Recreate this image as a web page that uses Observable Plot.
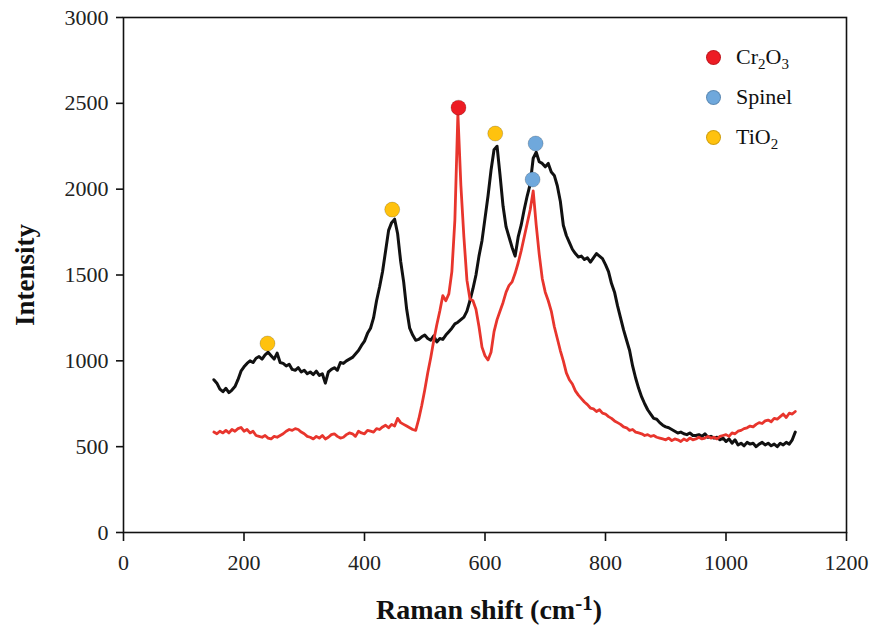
<!DOCTYPE html>
<html><head><meta charset="utf-8">
<script src="https://cdn.jsdelivr.net/npm/d3@7"></script>
<script src="https://cdn.jsdelivr.net/npm/@observablehq/plot@0.6"></script>
<style>
body{margin:0;background:#fff;}
#wrap{position:relative;width:869px;height:631px;font-family:"Liberation Serif","Times New Roman",serif;color:#111;}
.ylab{position:absolute;left:25px;top:275px;transform:translate(-50%,-50%) rotate(-90deg);font-weight:bold;font-size:27px;white-space:nowrap;}
.xlab{position:absolute;left:489px;top:610px;transform:translate(-50%,-50%);font-weight:bold;font-size:28px;white-space:nowrap;}
.xlab sup{font-size:21px;vertical-align:9px;line-height:0;}
.legend{position:absolute;left:706px;top:37px;font-size:22px;}
.legend .item{display:flex;align-items:center;height:40px;}
.legend .dot{width:15px;height:15px;border-radius:50%;margin-right:15px;box-sizing:border-box;border:1px solid rgba(0,0,0,0.18);}
.legend sub{font-size:15px;vertical-align:-5px;line-height:0;}
</style>
</head><body>
<div id="wrap"></div>
<script>
// Raman shift sample positions (cm-1)
const shift = [
150,155,160,165,170,175,180,185,190,195,
200,205,210,215,220,225,230,235,240,245,
250,255,260,265,270,275,280,285,290,295,
300,305,310,315,320,325,330,335,340,345,
350,355,360,365,370,375,380,385,390,395,
400,405,410,415,420,425,430,435,440,445,
450,455,460,465,470,475,480,485,490,495,
500,505,510,515,520,525,530,535,540,545,
550,555,560,565,570,575,580,585,590,595,
600,605,610,615,620,625,630,635,640,645,
650,655,660,665,670,675,680,685,690,695,
700,705,710,715,720,725,730,735,740,745,
750,755,760,765,770,775,780,785,790,795,
800,805,810,815,820,825,830,835,840,845,
850,855,860,865,870,875,880,885,890,895,
900,905,910,915,920,925,930,935,940,945,
950,955,960,965,970,975,980,985,990,995,
1000,1005,1010,1015,1020,1025,1030,1035,1040,1045,
1050,1055,1060,1065,1070,1075,1080,1085,1090,1095,
1100,1105,1110,1115];

// Black spectrum intensity
const intensityBlack = [
890,870,835,820,840,815,830,850,890,940,
965,985,1000,990,1015,1025,1010,1035,1050,1030,
1010,1045,990,985,970,980,950,945,960,935,
945,925,935,920,940,915,925,870,935,950,
960,945,990,985,1000,1010,1020,1040,1060,1090,
1115,1160,1190,1250,1350,1430,1520,1640,1760,1805,
1825,1740,1580,1460,1300,1190,1150,1120,1125,1140,
1150,1130,1120,1145,1110,1130,1125,1150,1170,1190,
1215,1225,1240,1255,1290,1350,1420,1500,1610,1700,
1830,1960,2110,2230,2250,2080,1900,1780,1720,1660,
1610,1720,1790,1880,1960,2030,2180,2215,2160,2150,
2130,2150,2100,2080,2020,1930,1790,1730,1690,1650,
1625,1605,1610,1590,1600,1575,1600,1625,1610,1595,
1560,1520,1450,1400,1320,1250,1180,1120,1060,970,
900,840,790,750,715,690,665,660,640,625,
615,610,600,590,580,585,575,570,580,565,
565,570,560,575,555,560,550,555,540,550,
530,545,520,540,510,520,505,525,515,520,
500,515,525,510,520,505,515,500,520,510,
525,515,540,585];

// Red spectrum intensity
const intensityRed = [
585,575,590,580,595,580,600,590,605,612,
590,600,580,590,565,560,555,565,550,545,
560,555,565,575,590,600,595,605,600,585,
575,560,555,545,560,550,565,545,555,570,
575,560,550,555,570,580,575,560,590,580,
575,595,590,585,605,600,615,625,610,630,
620,665,640,630,620,610,600,595,660,740,
830,930,1020,1120,1210,1290,1380,1350,1390,1520,
1820,2440,2020,1720,1470,1360,1350,1300,1200,1080,
1030,1005,1050,1170,1240,1290,1340,1400,1440,1460,
1510,1570,1640,1720,1800,1880,1990,1790,1620,1480,
1400,1350,1290,1200,1130,1060,1000,930,890,865,
825,800,780,760,745,725,720,705,715,695,
690,675,665,650,640,630,615,610,595,600,
585,580,575,565,570,560,565,555,550,545,
540,550,535,545,540,530,545,535,550,540,
545,555,545,550,560,550,555,545,560,565,
570,560,580,575,590,595,605,610,620,615,
630,640,635,650,655,645,665,660,675,690,
670,695,690,705];

// Peak markers
const markerPhase = ["Cr2O3","TiO2","TiO2","TiO2","Spinel","Spinel"];
const markerShift = [556,239,446,617,679,684];
const markerIntensity = [2475,1101,1881,2324,2056,2266];

const phaseNames = ["Cr2O3","Spinel","TiO2"];
const phaseColors = ["#ED1C24","#6FA8DC","#FFC20E"];

const xTicks = [0,200,400,600,800,1000,1200];
const yTicks = [0,500,1000,1500,2000,2500,3000];

const black = shift.map((s,i)=>({shift:s, intensity:intensityBlack[i]}));
const red = shift.map((s,i)=>({shift:s, intensity:intensityRed[i]}));
const markers = markerPhase.map((p,i)=>({phase:p, shift:markerShift[i], intensity:markerIntensity[i]}));

const chart = Plot.plot({
  width: 869, height: 631,
  marginLeft: 123, marginRight: 23, marginTop: 17, marginBottom: 99,
  style: {fontFamily: "'Liberation Serif','Times New Roman',serif", fontSize: "22px", color: "#222", background: "white", overflow: "visible"},
  x: {domain: [0,1200], label: null},
  y: {domain: [0,3000], label: null},
  color: {domain: phaseNames, range: phaseColors},
  marks: [
    Plot.axisX({ticks: xTicks, tickSize: 9, tickPadding: 13, tickFormat: d => String(d), label: null, strokeWidth: 1.6, stroke: "#111"}),
    Plot.axisY({ticks: yTicks, tickSize: 7, tickPadding: 8, tickFormat: d => String(d), label: null, strokeWidth: 1.6, stroke: "#111"}),
    Plot.frame({stroke: "#111", strokeWidth: 1.6}),
    Plot.line(black, {x: "shift", y: "intensity", stroke: "#111", strokeWidth: 3, strokeLinejoin: "round"}),
    Plot.line(red, {x: "shift", y: "intensity", stroke: "#E8352D", strokeWidth: 2.8, strokeLinejoin: "round"}),
    Plot.dot(markers, {x: "shift", y: "intensity", fill: "phase", r: 7.5, stroke: "rgba(0,0,0,0.18)", strokeWidth: 1})
  ]
});

const wrap = document.getElementById("wrap");
wrap.appendChild(chart);

const yl = document.createElement("div");
yl.className = "ylab"; yl.textContent = "Intensity";
wrap.appendChild(yl);

const xl = document.createElement("div");
xl.className = "xlab"; xl.innerHTML = "Raman shift (cm<sup>-1</sup>)";
wrap.appendChild(xl);

const legendLabels = ["Cr<sub>2</sub>O<sub>3</sub>","Spinel","TiO<sub>2</sub>"];
const lg = document.createElement("div");
lg.className = "legend";
phaseNames.forEach((p,i)=>{
  const it = document.createElement("div"); it.className = "item";
  const d = document.createElement("span"); d.className = "dot"; d.style.background = phaseColors[i];
  const t = document.createElement("span"); t.innerHTML = legendLabels[i];
  it.appendChild(d); it.appendChild(t); lg.appendChild(it);
});
wrap.appendChild(lg);
</script>
</body></html>
